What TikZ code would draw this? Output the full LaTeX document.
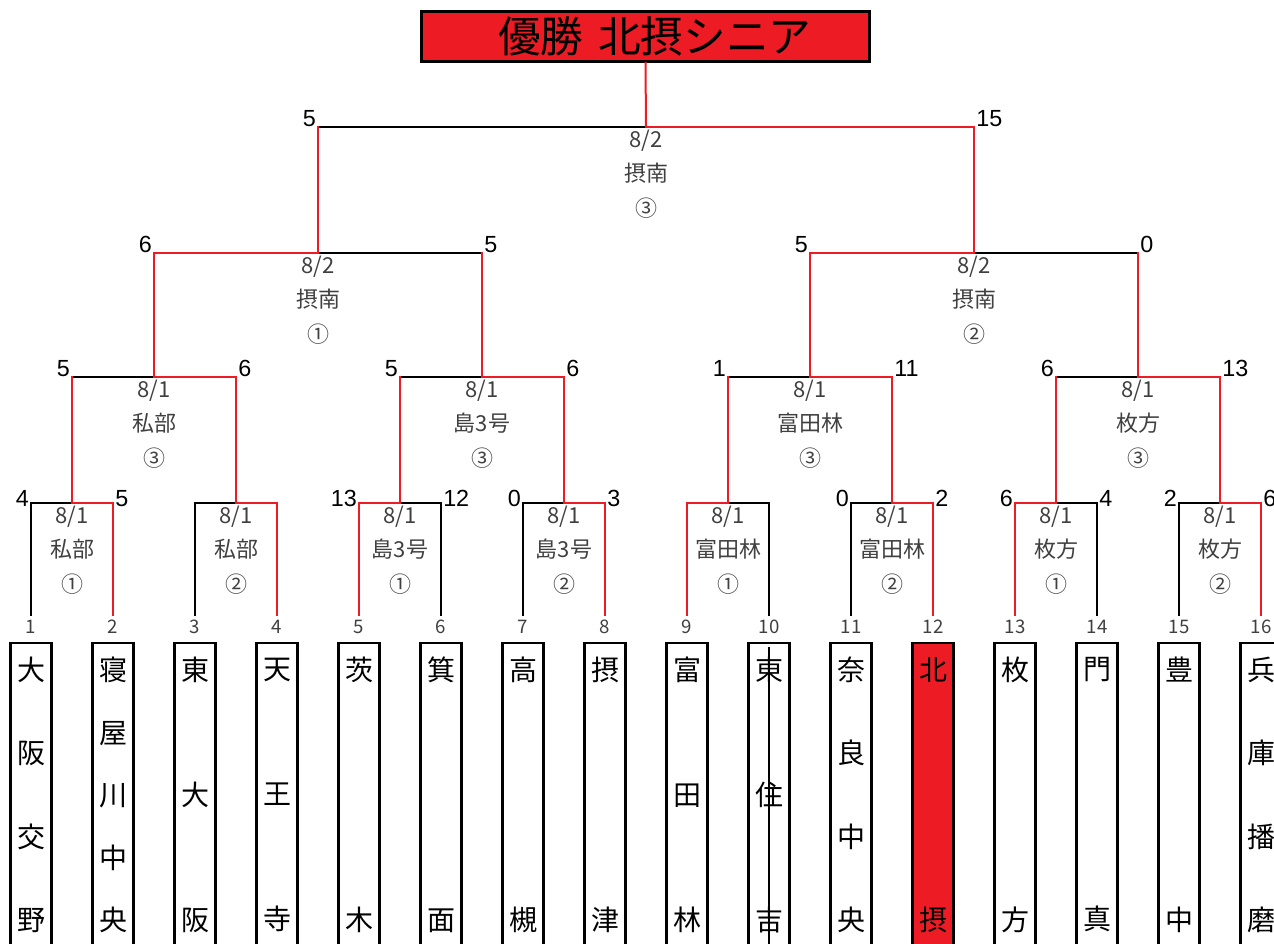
\documentclass[tikz,border=0pt]{standalone}
\usepackage{fontspec}
\setmainfont{Noto Sans CJK JP}
\newfontfamily\scorefont{Liberation Sans}
\usetikzlibrary{calc}
\definecolor{winred}{HTML}{ED1C24}
\definecolor{infogray}{HTML}{404040}

\begin{document}
\begin{tikzpicture}[x=0.75pt, y=-0.75pt, line cap=rect,
  win/.style={draw=winred, line width=1.5pt},
  lose/.style={draw=black, line width=1.5pt},
  score/.style={font=\scorefont\fontsize{17.5pt}{19pt}\selectfont, inner sep=0pt},
  scoreL/.style={score, anchor=base east, xshift=-1.5pt},
  scoreR/.style={score, anchor=base west, xshift=1.5pt},
  info/.style={font=\fontsize{16.5pt}{18pt}\selectfont, text=infogray, inner sep=0pt},
  num/.style={font=\fontsize{14pt}{16pt}\selectfont, text=infogray, inner sep=0pt},
  teambox/.style={draw=black, line width=1.8pt, minimum width=30.5pt, minimum height=228pt, inner sep=0pt, align=center},
  champ/.style={draw=black, line width=2.25pt, fill=winred, minimum width=336pt, minimum height=37.5pt, inner sep=0pt, font=\fontsize{32pt}{34pt}\selectfont}]
  \useasboundingbox (0,0) rectangle (1274,944);
  \clip (0,0) rectangle (1274,944);

  % Champion
  \node[champ] (title) at (645.5,36.5) {\hspace*{14pt}優勝\hspace{11pt}北摂シニア};

  % Team columns with draw numbers
  \foreach \team/\lsp/\fc [count=\i] in {大\\阪\\交\\野/62.5/white, 寝\\屋\\川\\中\\央/46.875/white, 東\\大\\阪/93.75/white, 天\\王\\寺/93.75/white, 茨\\木/187.5/white, 箕\\面/187.5/white, 高\\槻/187.5/white, 摂\\津/187.5/white, 富\\田\\林/93.75/white, 東\\住\\吉/93.75/white, 奈\\良\\中\\央/62.5/white, 北\\摂/187.5/winred, 枚\\方/187.5/white, 門\\真/187.5/white, 豊\\中/187.5/white, 兵\\庫\\播\\磨/62.5/white}
  {
    \pgfmathtruncatemacro{\tx}{31+82*(\i-1)}
    \coordinate (t\i) at (\tx,615);
    \node[num] (n\i) at (\tx,627) {\i};
    \node[teambox, fill=\fc, font=\fontsize{21pt}{\lsp pt}\selectfont] (box\i) at (\tx,795) {\team};
  }
  \draw[lose] ([yshift=-5pt]box10.north) -- (box10.south);

  % Match points
  \foreach \j in {1,...,8}
    \coordinate (g\j) at ({72+164*(\j-1)},503);
  \coordinate (q1) at (154,377);
  \coordinate (q2) at (482,377);
  \coordinate (q3) at (810,377);
  \coordinate (q4) at (1138,377);
  \coordinate (s1) at (318,253);
  \coordinate (s2) at (974,253);
  \coordinate (f) at (646,127);

  % First round
  \foreach \w/\l/\g in {2/1/1, 4/3/2, 5/6/3, 8/7/4, 9/10/5, 12/11/6, 13/14/7, 16/15/8}
  {
    \draw[lose] (t\l) |- (g\g);
    \draw[win] (t\w) |- (g\g);
  }

  % Second round
  \foreach \w/\l/\m in {2/1/1, 4/3/2, 6/5/3, 8/7/4}
  {
    \draw[lose] (g\l |- q\m) -- (q\m);
    \draw[win] (g\l) -- (g\l |- q\m);
    \draw[win] (g\w) |- (q\m);
  }

  % Semi-finals
  \draw[lose] (q2 |- s1) -- (s1);
  \draw[win] (q2) -- (q2 |- s1);
  \draw[win] (q1) |- (s1);
  \draw[lose] (q4 |- s2) -- (s2);
  \draw[win] (q4) -- (q4 |- s2);
  \draw[win] (q3) |- (s2);

  % Final
  \draw[lose] (s1 |- f) -- (f);
  \draw[win] (s1) -- (s1 |- f);
  \draw[win] (s2) |- (f);
  \draw[win] (f) -- (title.south);

  % Date, ground and game number
  \foreach \m/\d/\v/\k in {g1/1/私部/①, g2/1/私部/②, g3/1/島3号/①, g4/1/島3号/②, g5/1/富田林/①, g6/1/富田林/②, g7/1/枚方/①, g8/1/枚方/②, q1/1/私部/③, q2/1/島3号/③, q3/1/富田林/③, q4/1/枚方/③, s1/2/摂南/①, s2/2/摂南/②, f/2/摂南/③}
  {
    \node[info] (d\m) at ($(\m)+(0,14)$) {8/\d};
    \node[info] (v\m) at ($(\m)+(0,46)$) {\v};
    \node[info] (k\m) at ($(\m)+(0,81)$) {\k};
  }

  % Scores
  \foreach \p/\s in {t1 |- g1/4, t5 |- g3/13, t7 |- g4/0, t11 |- g6/0, t13 |- g7/6, t15 |- g8/2}
    \node[scoreL, yshift=-3pt] at (\p) {\s};
  \foreach \p/\s in {t2 |- g1/5, t6 |- g3/12, t8 |- g4/3, t12 |- g6/2, t14 |- g7/4, t16 |- g8/6}
    \node[scoreR, yshift=-3pt] at (\p) {\s};
  \foreach \p/\s in {g1 |- q1/5, g3 |- q2/5, g5 |- q3/1, g7 |- q4/6, q1 |- s1/6, q3 |- s2/5, s1 |- f/5}
    \node[scoreL] at (\p) {\s};
  \foreach \p/\s in {g2 |- q1/6, g4 |- q2/6, g6 |- q3/11, g8 |- q4/13, q2 |- s1/5, q4 |- s2/0, s2 |- f/15}
    \node[scoreR] at (\p) {\s};

\end{tikzpicture}
\end{document}
